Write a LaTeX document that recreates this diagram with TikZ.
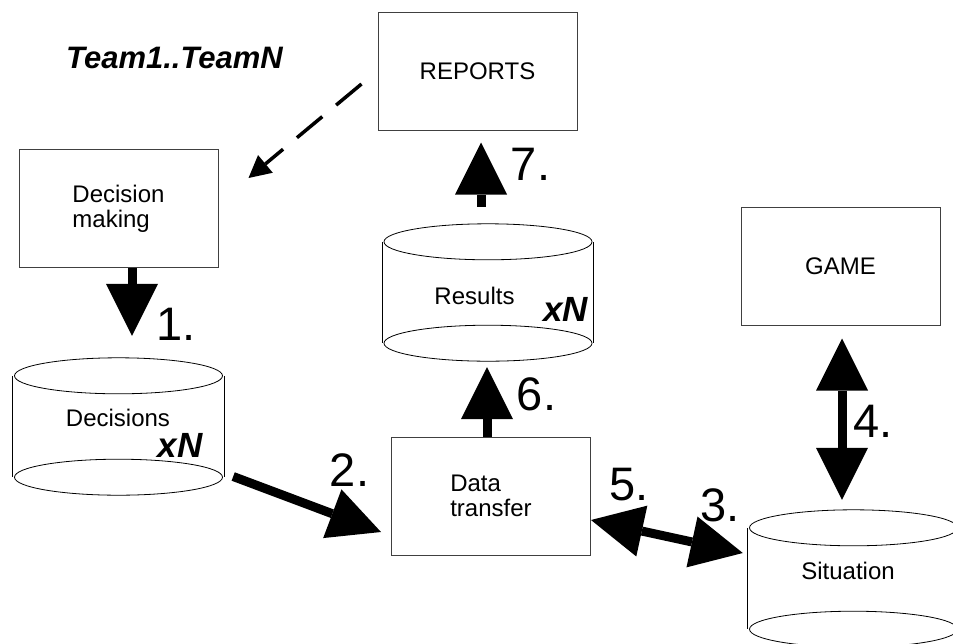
\documentclass[tikz,border=0pt]{standalone}
\usepackage{fontspec}
\setmainfont{Liberation Sans}
\usetikzlibrary{arrows.meta}

\tikzset{
  box/.style={draw=black!75, line width=1pt, minimum width=199pt, minimum height=118pt,
    align=left, inner sep=0pt, font=\fontsize{24}{25}\selectfont},
  store/.style={minimum width=211pt, minimum height=137pt, inner sep=0pt},
  txt/.style={inner sep=0pt, font=\fontsize{24}{25}\selectfont},
  num/.style={inner sep=0pt, font=\fontsize{47}{47}\selectfont},
  mult/.style={inner sep=0pt, font=\fontsize{35}{35}\selectfont\bfseries\itshape},
  flow/.style={line width=9pt, -{Triangle[length=52pt,width=52pt,line width=0pt]}},
  duplex/.style={line width=9pt,
    {Triangle[length=52pt,width=52pt,line width=0pt]}-{Triangle[length=52pt,width=52pt,line width=0pt]}},
  feedback/.style={line width=3.5pt, dash pattern=on 33pt off 18pt,
    -{Triangle[length=22pt,width=23pt,line width=0pt]}}
}

% outline of a data store round an empty node
\newcommand{\drawstore}[1]{%
  \draw[line width=0.8pt] ([yshift=-18pt]#1.north west) -- ([yshift=18pt]#1.south west)
    ([yshift=-18pt]#1.north east) -- ([yshift=18pt]#1.south east);
  \draw[line width=0.8pt] ([yshift=-18pt]#1.north) ellipse [x radius=104pt, y radius=18pt];
  \draw[line width=0.8pt] ([yshift=18pt]#1.south) ellipse [x radius=104pt, y radius=18pt];
}

\begin{document}
\begin{tikzpicture}[x=1pt, y=-1pt]
  \useasboundingbox (0,0) rectangle (953,643);

  % boxes
  \node[box] (reports) at (477.5,71) {REPORTS};
  \node[box] (decide) at (118.5,208.5) {Decision\\making};
  \node[box] (game) at (840.5,266.5) {GAME};
  \node[box] (transfer) at (491,496) {Data\\transfer};

  % data stores
  \node[store] (decisions) at (118.5,426.5) {};
  \node[store] (results) at (488,292.5) {};
  \node[store] (situation) at (853.5,578.5) {};
  \foreach \s in {decisions, results, situation} {
    \drawstore{\s}
  }

  \node[txt] (decisionsname) at (118,418) {Decisions};
  \node[txt] (resultsname) at (474.5,296) {Results};
  \node[txt] (situationname) at (848,571) {Situation};
  \node[mult] (decisionsxn) at (180,445.5) {xN};
  \node[mult] (resultsxn) at (565.5,309.5) {xN};

  \node[inner sep=0pt, font=\fontsize{31}{31}\selectfont\bfseries\itshape] (teams) at (174.5,58) {Team1..TeamN};

  % flows
  \draw[flow] ([xshift=13.5pt]decide.south) -- ([xshift=13.5pt,yshift=22pt]decisions.north);
  \draw[flow] ([shift={(9,50)}]decisions.east) -- ([shift={(-10,36)}]transfer.west);
  \draw[duplex] ([shift={(0,24)}]transfer.east) -- ([shift={(-5,-25.5)}]situation.west);
  \draw[duplex] ([shift={(1.5,12.5)}]game.south) -- ([shift={(-11.5,-10)}]situation.north);
  \draw[flow] ([shift={(-4,0)}]transfer.north) -- ([shift={(-1,6)}]results.south);
  \draw[flow] ([shift={(-7,-17)}]results.north) -- ([shift={(3.5,12)}]reports.south);
  \draw[feedback] ([shift={(-16,13)}]reports.west) -- ([shift={(30,29)}]decide.north east);

  % step numbers
  \node[num] (n1) at (176,324) {1.};
  \node[num] (n2) at (349.5,470) {2.};
  \node[num] (n3) at (720,505) {3.};
  \node[num] (n4) at (873,421.5) {4.};
  \node[num] (n5) at (629,484.5) {5.};
  \node[num] (n6) at (536.5,394.5) {6.};
  \node[num] (n7) at (530.5,164.5) {7.};
\end{tikzpicture}
\end{document}
